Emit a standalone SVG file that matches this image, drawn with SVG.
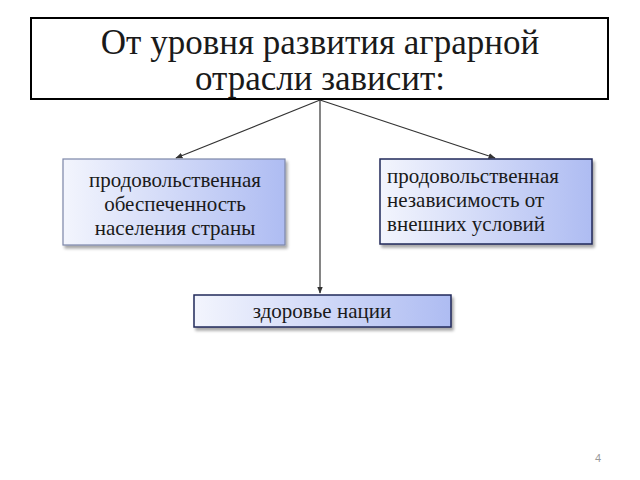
<svg xmlns="http://www.w3.org/2000/svg" width="640" height="480" viewBox="0 0 640 480">
<style>
text{font-family:"Liberation Serif","Times New Roman",serif;fill:#1a1a1a}
.h{font-size:35px;text-anchor:middle}
.b{font-size:21px}
.c{stroke:#333;stroke-width:1.2;fill:none;marker-end:url(#ah)}
</style>
<defs>
<linearGradient id="g" x1="0" y1="0" x2="1" y2="0">
<stop offset="0" stop-color="#f3f5fd"/>
<stop offset="1" stop-color="#aebcf2"/>
</linearGradient>
<filter id="sh" x="-10%" y="-10%" width="130%" height="140%">
<feGaussianBlur in="SourceAlpha" stdDeviation="1.5"/>
<feOffset dx="2" dy="3"/>
<feComponentTransfer><feFuncA type="linear" slope="0.35"/></feComponentTransfer>
<feMerge><feMergeNode/><feMergeNode in="SourceGraphic"/></feMerge>
</filter>
<marker id="ah" viewBox="0 0 10 10" refX="9" refY="5" markerWidth="6" markerHeight="6" orient="auto-start-reverse">
<path d="M0,1 L10,5 L0,9 z" fill="#333"/>
</marker>
</defs>
<rect width="640" height="480" fill="#fff"/>
<g id="connectors">
<line class="c" x1="320" y1="100" x2="176" y2="158"/>
<line class="c" x1="320" y1="100" x2="495" y2="158"/>
<line class="c" x1="320" y1="100" x2="320" y2="293"/>
</g>
<g id="title">
<rect x="31" y="18" width="577" height="81" fill="#fff" stroke="#000" stroke-width="2"/>
<text class="h" x="320" y="54">От уровня развития аграрной</text>
<text class="h" x="320" y="90">отрасли зависит:</text>
</g>
<g id="left">
<rect x="63" y="159" width="222" height="86" fill="url(#g)" stroke="#7c86a8" stroke-width="1.2" filter="url(#sh)"/>
<text class="b" x="175" y="187" text-anchor="middle">продовольственная</text>
<text class="b" x="175" y="211" text-anchor="middle">обеспеченность</text>
<text class="b" x="175" y="235" text-anchor="middle">населения страны</text>
</g>
<g id="right">
<rect x="380" y="159" width="212" height="85" fill="url(#g)" stroke="#1f2a5a" stroke-width="1.5" filter="url(#sh)"/>
<text class="b" x="387" y="183">продовольственная</text>
<text class="b" x="387" y="207">независимость от</text>
<text class="b" x="387" y="231">внешних условий</text>
</g>
<g id="bottom">
<rect x="194" y="295" width="257" height="32" fill="url(#g)" stroke="#1f2a5a" stroke-width="1.5" filter="url(#sh)"/>
<text class="b" x="322" y="318" text-anchor="middle">здоровье нации</text>
</g>
<text x="598" y="462" style="font-family:'Liberation Sans',Arial,sans-serif;font-size:11px;fill:#999" text-anchor="middle">4</text>
</svg>
